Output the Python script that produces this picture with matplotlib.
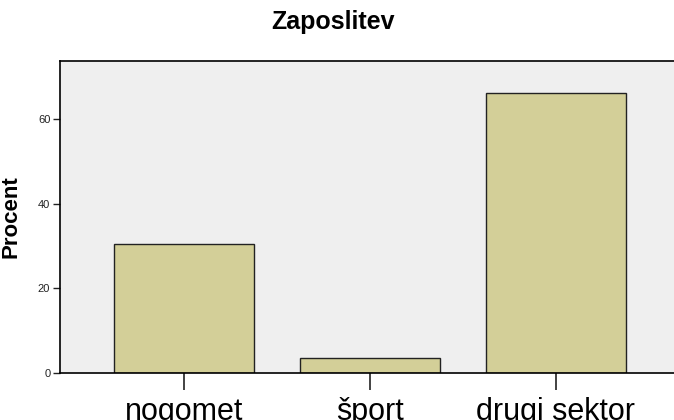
import matplotlib
matplotlib.use("Agg")
import matplotlib.pyplot as plt

# données
categories = ["nogomet", "šport", "drugi sektor"]
procent = [30.5, 3.5, 66.1]

plt.rcParams['font.family'] = ['Liberation Sans', 'DejaVu Sans']

fig = plt.figure(figsize=(6.74, 4.2), dpi=100)
ax = fig.add_axes([60/674, 47/420, 620/674, 312/420])
ax.set_facecolor("#efefef")

x = range(len(categories))
ax.bar(x, procent, width=0.753, color="#d3cf98", edgecolor="#222222", linewidth=1.0)

ax.set_xlim(-0.667, 2.667)
ax.set_ylim(0, 73.7)
ax.set_yticks([0, 20, 40, 60])
ax.set_xticks(list(x))
ax.set_xticklabels(categories, fontsize=22)

ax.tick_params(axis='y', length=5, width=1, labelsize=8, pad=2, colors="#222222")
ax.tick_params(axis='x', length=12, width=1.2, pad=5, colors="#222222")
for lab in ax.get_xticklabels():
    lab.set_color("black")

for s in ax.spines.values():
    s.set_linewidth(1.2)
    s.set_color("black")

ax.set_ylabel("Procent", fontsize=16, fontweight="bold", labelpad=12)
fig.text(333/674, 1 - 22/420, "Zaposlitev", ha="center", va="center",
         fontsize=18, fontweight="bold")

fig.savefig("out.png", dpi=100)
